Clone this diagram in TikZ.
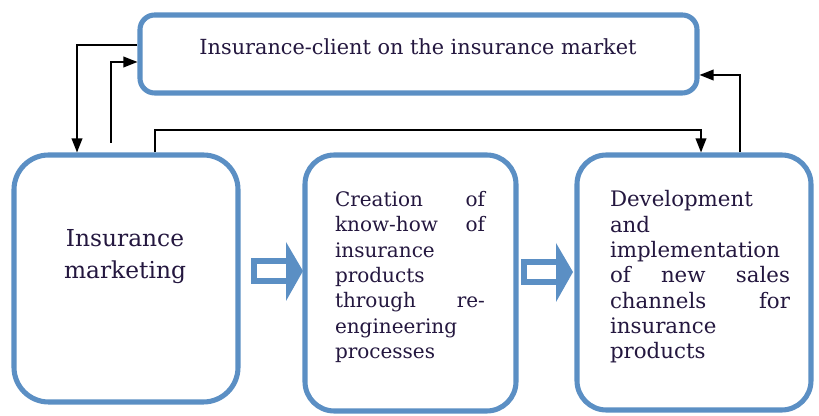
\documentclass[tikz,border=0pt]{standalone}
\usepackage{fontspec}
\setmainfont{DejaVu Serif}
\usetikzlibrary{arrows.meta}
\definecolor{boxblue}{HTML}{5B8FC4}
\definecolor{ink}{HTML}{24173F}

\begin{document}
\begin{tikzpicture}[x=0.75pt,y=-0.75pt,
  card/.style={draw=boxblue, line width=3.8pt, fill=white, rectangle},
  link/.style={draw=black, line width=1.1pt, -{Triangle[length=10.5pt,width=8pt]}},
  label/.style={text=ink, inner sep=0pt},
  bodytext/.style={label, text width=#1, align=left},
  shaft/.style={draw=boxblue, line width=3.8pt, line cap=butt, line join=miter},
  head/.style={fill=boxblue}]

\useasboundingbox[fill=white] (0,0) rectangle (819,416);

% the four boxes
\node[card, rounded corners=11pt, minimum width=417.75pt, minimum height=58.5pt] (top) at (418.5,54) {};
\node[card, rounded corners=26pt, minimum width=168pt, minimum height=185.25pt] (left) at (126,278.5) {};
\node[card, rounded corners=22pt, minimum width=158.25pt, minimum height=192pt] (mid) at (410.5,283) {};
\node[card, rounded corners=22pt, minimum width=175.5pt, minimum height=191.25pt] (right) at (694,282.5) {};

% texts
\node[label, font=\fontsize{15.6pt}{19pt}\selectfont] (toptext) at (418,47) {Insurance-client on the insurance market};
\node[label, align=center, font=\fontsize{17.5pt}{24pt}\selectfont] (lefttext) at (125,257) {Insurance\\marketing};
\node[bodytext=112.5pt, font=\fontsize{15pt}{19pt}\selectfont] (midtext) at (410,277) {%
  Creation\hfill of\\
  know-how\hfill of\\
  insurance\\
  products\\
  through\hfill re-\\
  engineering\\
  processes};
\node[bodytext=135pt, font=\fontsize{16pt}{19pt}\selectfont] (righttext) at (700,277) {%
  Development\\
  and\\
  implementation\\
  of\hfill new\hfill sales\\
  channels\hfill for\\
  insurance\\
  products};

% feedback connectors
\coordinate (upstart) at (111,143);
\draw[link] (top.west |- 0,45) -| (77,0 |- left.north);
\draw[link] (upstart) |- (top.west |- 0,62);
\draw[link] (155,0 |- left.north) -- (155,130) -| (701,0 |- right.north);
\draw[link] (740,0 |- right.north) |- (top.east |- 0,75);

% hollow-shaft block arrows between the boxes
\foreach \ox/\oy in {253/271, 523/272}{
  \begin{scope}[shift={(\ox,\oy)}]
    \draw[shaft] (36,-10) -- (1,-10) -- (1,10) -- (36,10);
    \fill[head] (33,-29) -- (50,0) -- (33,30) -- cycle;
  \end{scope}
}
\end{tikzpicture}
\end{document}
